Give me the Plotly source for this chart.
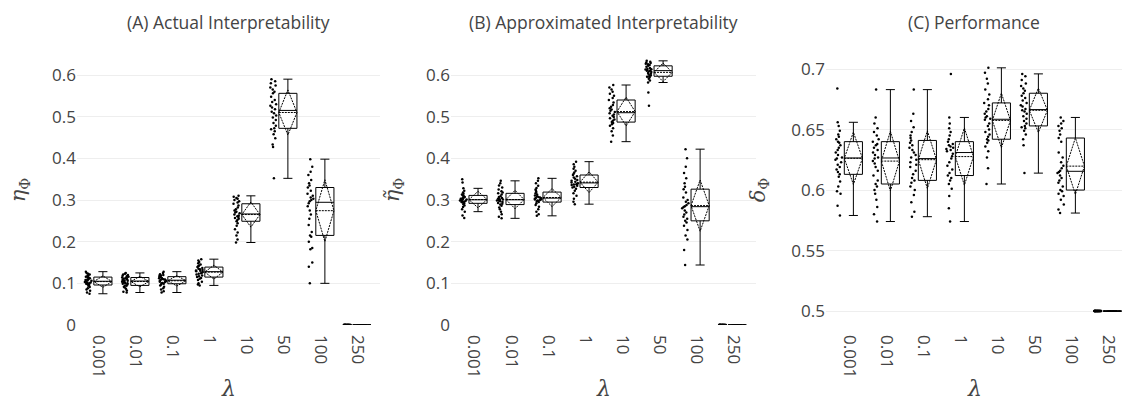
import plotly.graph_objects as go

lambdas = ["0.001", "0.01", "0.1", "1", "10", "50", "100", "250"]

# (A) Actual interpretability
a_0001 = [0.075, 0.078, 0.082, 0.085, 0.088, 0.091, 0.094, 0.096, 0.098, 0.099, 0.100, 0.101, 0.102, 0.103, 0.104,
          0.106, 0.107, 0.108, 0.109, 0.110, 0.112, 0.113, 0.115, 0.116, 0.118, 0.119, 0.121, 0.123, 0.125, 0.128]
a_001 = [0.078, 0.080, 0.083, 0.087, 0.090, 0.092, 0.094, 0.095, 0.097, 0.099, 0.100, 0.101, 0.103, 0.104, 0.105,
         0.106, 0.107, 0.108, 0.110, 0.111, 0.112, 0.113, 0.114, 0.116, 0.117, 0.118, 0.120, 0.121, 0.123, 0.125]
a_01 = [0.078, 0.081, 0.085, 0.088, 0.092, 0.095, 0.097, 0.099, 0.100, 0.101, 0.103, 0.104, 0.105, 0.106, 0.107,
        0.108, 0.109, 0.110, 0.111, 0.112, 0.113, 0.115, 0.116, 0.117, 0.118, 0.119, 0.120, 0.122, 0.125, 0.128]
a_1 = [0.095, 0.097, 0.100, 0.104, 0.108, 0.111, 0.113, 0.115, 0.117, 0.119, 0.121, 0.123, 0.124, 0.126, 0.127,
       0.129, 0.130, 0.131, 0.132, 0.134, 0.135, 0.137, 0.139, 0.141, 0.143, 0.145, 0.148, 0.151, 0.155, 0.158]
a_10 = [0.198, 0.205, 0.215, 0.222, 0.230, 0.238, 0.244, 0.249, 0.252, 0.255, 0.257, 0.259, 0.261, 0.263, 0.265,
        0.268, 0.270, 0.272, 0.275, 0.278, 0.282, 0.287, 0.291, 0.294, 0.297, 0.300, 0.303, 0.305, 0.308, 0.310]
a_50 = [0.352, 0.427, 0.433, 0.448, 0.458, 0.465, 0.470, 0.472, 0.478, 0.485, 0.492, 0.498, 0.503, 0.508, 0.512,
        0.518, 0.522, 0.526, 0.530, 0.535, 0.540, 0.548, 0.556, 0.560, 0.565, 0.570, 0.575, 0.580, 0.585, 0.590]
a_100 = [0.100, 0.140, 0.150, 0.182, 0.185, 0.200, 0.212, 0.215, 0.223, 0.240, 0.255, 0.265, 0.275, 0.285, 0.292,
         0.297, 0.300, 0.303, 0.306, 0.310, 0.315, 0.322, 0.330, 0.335, 0.340, 0.348, 0.360, 0.368, 0.380, 0.398]
a_250 = [0.0, 0.0, 0.0, 0.0, 0.0, 0.0, 0.0, 0.0, 0.0, 0.0, 0.0, 0.0, 0.0, 0.0, 0.0,
         0.0, 0.0, 0.0, 0.0, 0.0, 0.0, 0.0, 0.0, 0.0, 0.0, 0.0, 0.0, 0.0, 0.0, 0.0]

# (B) Approximated interpretability
b_0001 = [0.257, 0.263, 0.272, 0.278, 0.283, 0.287, 0.290, 0.292, 0.294, 0.295, 0.296, 0.297, 0.298, 0.299, 0.300,
          0.301, 0.302, 0.303, 0.304, 0.305, 0.307, 0.309, 0.311, 0.313, 0.315, 0.318, 0.322, 0.328, 0.342, 0.350]
b_001 = [0.256, 0.260, 0.266, 0.272, 0.278, 0.282, 0.286, 0.289, 0.291, 0.293, 0.295, 0.297, 0.298, 0.299, 0.300,
         0.301, 0.302, 0.303, 0.305, 0.307, 0.309, 0.313, 0.316, 0.318, 0.321, 0.325, 0.330, 0.335, 0.340, 0.346]
b_01 = [0.262, 0.266, 0.272, 0.278, 0.284, 0.288, 0.292, 0.295, 0.297, 0.299, 0.300, 0.301, 0.302, 0.303, 0.304,
        0.305, 0.306, 0.307, 0.309, 0.311, 0.313, 0.316, 0.319, 0.322, 0.325, 0.329, 0.334, 0.340, 0.346, 0.352]
b_1 = [0.290, 0.296, 0.303, 0.310, 0.316, 0.322, 0.327, 0.330, 0.332, 0.334, 0.336, 0.337, 0.338, 0.339, 0.340,
       0.342, 0.344, 0.346, 0.348, 0.351, 0.354, 0.357, 0.360, 0.363, 0.366, 0.370, 0.375, 0.380, 0.386, 0.392]
b_10 = [0.440, 0.455, 0.465, 0.472, 0.478, 0.482, 0.485, 0.487, 0.490, 0.493, 0.496, 0.499, 0.502, 0.505, 0.508,
        0.511, 0.514, 0.517, 0.520, 0.524, 0.528, 0.534, 0.540, 0.545, 0.550, 0.555, 0.560, 0.565, 0.570, 0.576]
b_50 = [0.526, 0.558, 0.582, 0.587, 0.591, 0.594, 0.596, 0.597, 0.599, 0.601, 0.603, 0.605, 0.607, 0.609, 0.610,
        0.611, 0.612, 0.613, 0.614, 0.615, 0.617, 0.620, 0.622, 0.624, 0.626, 0.627, 0.629, 0.630, 0.632, 0.634]
b_100 = [0.144, 0.180, 0.205, 0.215, 0.228, 0.238, 0.246, 0.250, 0.255, 0.260, 0.265, 0.270, 0.275, 0.280, 0.283,
         0.285, 0.288, 0.292, 0.296, 0.300, 0.306, 0.318, 0.326, 0.332, 0.340, 0.352, 0.365, 0.380, 0.400, 0.422]
b_250 = [0.0, 0.0, 0.0, 0.0, 0.0, 0.0, 0.0, 0.0, 0.0, 0.0, 0.0, 0.0, 0.0, 0.0, 0.0,
         0.0, 0.0, 0.0, 0.0, 0.0, 0.0, 0.0, 0.0, 0.0, 0.0, 0.0, 0.0, 0.0, 0.0, 0.0]

# (C) Performance
c_0001 = [0.579, 0.587, 0.597, 0.599, 0.603, 0.607, 0.611, 0.613, 0.615, 0.617, 0.619, 0.621, 0.623, 0.625, 0.626,
          0.627, 0.629, 0.631, 0.633, 0.635, 0.637, 0.639, 0.640, 0.642, 0.644, 0.646, 0.649, 0.653, 0.656, 0.684]
c_001 = [0.574, 0.580, 0.586, 0.592, 0.597, 0.600, 0.603, 0.605, 0.608, 0.612, 0.616, 0.619, 0.622, 0.624, 0.626,
         0.627, 0.629, 0.631, 0.633, 0.635, 0.637, 0.638, 0.640, 0.642, 0.645, 0.648, 0.651, 0.655, 0.660, 0.683]
c_01 = [0.578, 0.582, 0.590, 0.596, 0.600, 0.603, 0.606, 0.608, 0.610, 0.613, 0.616, 0.619, 0.621, 0.623, 0.625,
        0.627, 0.629, 0.631, 0.633, 0.635, 0.637, 0.639, 0.641, 0.643, 0.645, 0.648, 0.652, 0.657, 0.663, 0.683]
c_1 = [0.574, 0.585, 0.595, 0.601, 0.605, 0.608, 0.610, 0.612, 0.614, 0.617, 0.620, 0.623, 0.626, 0.628, 0.630,
       0.632, 0.633, 0.634, 0.635, 0.636, 0.637, 0.638, 0.640, 0.642, 0.645, 0.648, 0.651, 0.655, 0.660, 0.696]
c_10 = [0.605, 0.618, 0.627, 0.632, 0.636, 0.639, 0.641, 0.642, 0.644, 0.646, 0.648, 0.650, 0.653, 0.655, 0.658,
        0.659, 0.660, 0.661, 0.663, 0.665, 0.667, 0.670, 0.672, 0.675, 0.679, 0.683, 0.688, 0.692, 0.697, 0.701]
c_50 = [0.614, 0.637, 0.642, 0.646, 0.649, 0.651, 0.652, 0.653, 0.655, 0.657, 0.659, 0.661, 0.663, 0.665, 0.666,
        0.667, 0.669, 0.670, 0.672, 0.674, 0.676, 0.678, 0.680, 0.682, 0.684, 0.686, 0.688, 0.691, 0.694, 0.696]
c_100 = [0.581, 0.584, 0.588, 0.592, 0.595, 0.597, 0.599, 0.600, 0.603, 0.606, 0.608, 0.610, 0.612, 0.614, 0.615,
         0.616, 0.618, 0.620, 0.623, 0.627, 0.631, 0.640, 0.643, 0.646, 0.649, 0.651, 0.653, 0.655, 0.657, 0.660]
c_250 = [0.5, 0.5, 0.5, 0.5, 0.5, 0.5, 0.5, 0.5, 0.5, 0.5, 0.5, 0.5, 0.5, 0.5, 0.5,
         0.5, 0.5, 0.5, 0.5, 0.5, 0.5, 0.5, 0.5, 0.5, 0.5, 0.5, 0.5, 0.5, 0.5, 0.5]

panel_titles = ["(A) Actual Interpretability", "(B) Approximated Interpretability", "(C) Performance"]
y_titles = ["<i>η</i><sub>Φ</sub>", "<i>η̃</i><sub>Φ</sub>", "<i>δ</i><sub>Φ</sub>"]
x_title = "<i>λ</i>"

panels = [
    [a_0001, a_001, a_01, a_1, a_10, a_50, a_100, a_250],
    [b_0001, b_001, b_01, b_1, b_10, b_50, b_100, b_250],
    [c_0001, c_001, c_01, c_1, c_10, c_50, c_100, c_250],
]

fig = go.Figure()
for p, sets in enumerate(panels):
    xs, ys = [], []
    for lam, vals in zip(lambdas, sets):
        xs += [lam] * len(vals)
        ys += vals
    suffix = "" if p == 0 else str(p + 1)
    fig.add_trace(go.Box(
        x=xs, y=ys, xaxis="x" + suffix, yaxis="y" + suffix,
        boxpoints="all", jitter=0.4, pointpos=-1.6, boxmean="sd",
        fillcolor="white", line=dict(color="black", width=1),
        marker=dict(color="black", size=2.5), showlegend=False,
    ))

W, H = 1122, 403
ml, mr, mt, mb = 77, 0, 55, 78
pw = W - ml - mr
ph = H - mt - mb
doms = [(77, 380), (451, 756), (826, 1122)]
xranges = [[-0.70, 7.49], [-0.73, 7.51], [-0.74, 7.26]]
yranges = [[0, 0.648], [0, 0.648], [0.4885, 0.7116]]

tickfont = dict(family="Open Sans", size=17, color="#444")
layout = dict(
    width=W, height=H, margin=dict(l=ml, r=mr, t=mt, b=mb),
    paper_bgcolor="white", plot_bgcolor="white",
    font=dict(family="Open Sans", color="#444"),
    showlegend=False, annotations=[],
)
for p in range(3):
    suffix = "" if p == 0 else str(p + 1)
    d0 = (doms[p][0] - ml) / pw
    d1 = (doms[p][1] - ml) / pw
    layout["xaxis" + suffix] = dict(
        domain=[d0, d1], anchor="y" + suffix, type="category",
        categoryorder="array", categoryarray=lambdas,
        range=xranges[p], showgrid=False, zeroline=False, showline=False,
        tickangle=90, tickfont=tickfont, ticklabelshift=-4, ticklabelstandoff=9,
        automargin=False,
    )
    layout["yaxis" + suffix] = dict(
        anchor="x" + suffix, range=yranges[p], showgrid=True, gridcolor="#eeeeee",
        zeroline=False, showline=False, tickfont=tickfont, automargin=False,
        title=dict(text=y_titles[p], font=dict(family="DejaVu Serif", size=21, color="#444"), standoff=20),
    )
    layout["annotations"].append(dict(
        text=panel_titles[p], x=(d0 + d1) / 2, y=1 + 33 / ph, xref="paper", yref="paper",
        xanchor="center", yanchor="middle", showarrow=False,
        font=dict(family="Open Sans", size=17.5, color="#444"),
    ))
    # x-axis title (lambda), placed below the rotated tick labels
    layout["annotations"].append(dict(
        text=x_title, x=(d0 + d1) / 2, y=-(388 - (H - mb)) / ph, xref="paper", yref="paper",
        xanchor="center", yanchor="middle", showarrow=False,
        font=dict(family="DejaVu Serif", size=22, color="#444"),
    ))

fig.update_layout(**layout)
fig.write_html("out.html")
